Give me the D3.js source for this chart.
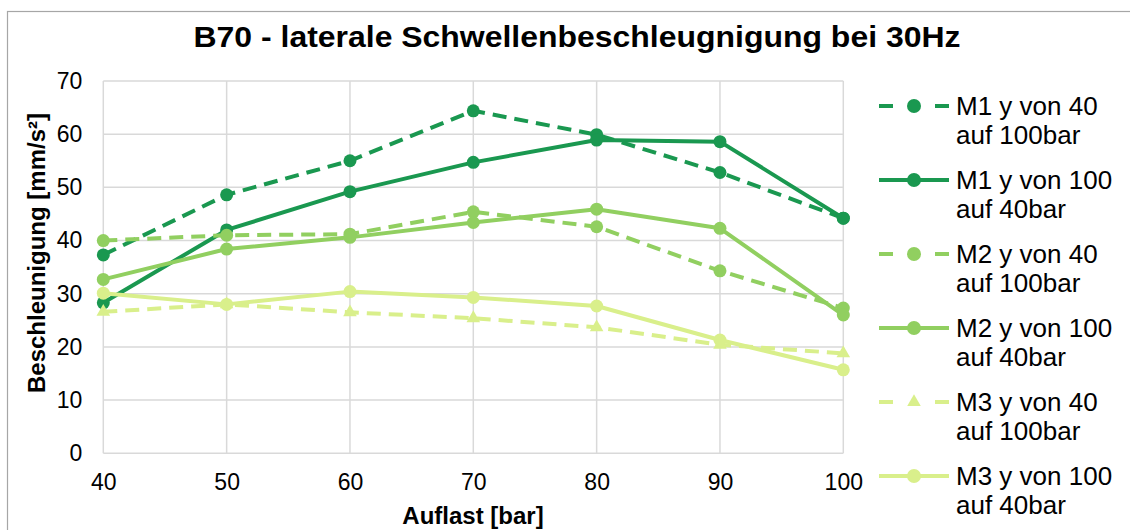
<!DOCTYPE html>
<html>
<head>
<meta charset="utf-8">
<script src="https://cdn.jsdelivr.net/npm/d3@7"></script>
<style>
  html, body { margin: 0; padding: 0; background: #fff; }
  svg { display: block; font-family: "Liberation Sans", Arial, sans-serif; }
</style>
</head>
<body>
<svg id="chart" width="1130" height="530"></svg>
<script>
// Auflast steps (bar)
const loads = [40, 50, 60, 70, 80, 90, 100];
const xTicks = [40, 50, 60, 70, 80, 90, 100];
const yTicks = [0, 10, 20, 30, 40, 50, 60, 70];

// Lateral sleeper acceleration (mm/s²) per measuring point and load direction
const m1Up   = [37.3, 48.6, 55.0, 64.4, 59.9, 52.8, 44.2];
const m1Down = [28.3, 42.0, 49.2, 54.7, 58.9, 58.6, 44.2];
const m2Up   = [40.0, 41.0, 41.2, 45.4, 42.6, 34.3, 27.3];
const m2Down = [32.7, 38.4, 40.6, 43.4, 45.9, 42.3, 26.0];
const m3Up   = [26.6, 28.0, 26.5, 25.4, 23.7, 20.4, 18.8];
const m3Down = [30.1, 28.0, 30.4, 29.3, 27.7, 21.3, 15.7];

const seriesNames = [
  ["M1 y von 40", "auf 100bar"],
  ["M1 y von 100", "auf 40bar"],
  ["M2 y von 40", "auf 100bar"],
  ["M2 y von 100", "auf 40bar"],
  ["M3 y von 40", "auf 100bar"],
  ["M3 y von 100", "auf 40bar"]
];

const C1 = "#1a9850", C2 = "#91cf60", C3 = "#d9ef8b";
const series = [
  { name: seriesNames[0], values: m1Up,   color: C1, dashed: true,  marker: "circle" },
  { name: seriesNames[1], values: m1Down, color: C1, dashed: false, marker: "circle" },
  { name: seriesNames[2], values: m2Up,   color: C2, dashed: true,  marker: "circle" },
  { name: seriesNames[3], values: m2Down, color: C2, dashed: false, marker: "circle" },
  { name: seriesNames[4], values: m3Up,   color: C3, dashed: true,  marker: "triangle" },
  { name: seriesNames[5], values: m3Down, color: C3, dashed: false, marker: "circle" }
];

const svg = d3.select("#chart");
const DASH = "14,8";

// chart frame
svg.append("rect")
  .attr("x", 7.5).attr("y", 11.5)
  .attr("width", 1300).attr("height", 700)
  .attr("fill", "#fff").attr("stroke", "#a6a6a6").attr("stroke-width", 1.2);

// title
svg.append("text")
  .attr("x", 577).attr("y", 47)
  .attr("text-anchor", "middle")
  .attr("font-size", 29).attr("font-weight", "bold")
  .attr("textLength", 767).attr("lengthAdjust", "spacingAndGlyphs")
  .attr("fill", "#000")
  .text("B70 - laterale Schwellenbeschleugnigung bei 30Hz");

const x = d3.scaleLinear().domain([40, 100]).range([103.3, 843.3]);
const y = d3.scaleLinear().domain([0, 70]).range([453.3, 81]);

// grid
const grid = svg.append("g").attr("stroke", "#d9d9d9").attr("stroke-width", 1.5);
grid.selectAll("line.h").data(yTicks).join("line")
  .attr("x1", x(40)).attr("x2", x(100))
  .attr("y1", d => y(d)).attr("y2", d => y(d));
grid.selectAll("line.v").data(xTicks).join("line")
  .attr("x1", d => x(d)).attr("x2", d => x(d))
  .attr("y1", y(0)).attr("y2", y(70));

// axes
const yAxis = svg.append("g")
  .attr("transform", `translate(${x(40)},0)`)
  .call(d3.axisLeft(y).tickValues(yTicks).tickSize(0).tickPadding(21));
const xAxis = svg.append("g")
  .attr("transform", `translate(0,${y(0)})`)
  .call(d3.axisBottom(x).tickValues(xTicks).tickSize(0).tickPadding(20));
[yAxis, xAxis].forEach(a => {
  a.select(".domain").remove();
  a.selectAll("text")
    .attr("font-size", 23)
    .attr("font-family", "'Liberation Sans', Arial, sans-serif")
    .attr("fill", "#000");
});

// axis titles
svg.append("text")
  .attr("transform", "translate(45,253) rotate(-90)")
  .attr("text-anchor", "middle")
  .attr("font-size", 24).attr("font-weight", "bold")
  .text("Beschleunigung [mm/s²]");
svg.append("text")
  .attr("x", 473).attr("y", 524)
  .attr("text-anchor", "middle")
  .attr("font-size", 24).attr("font-weight", "bold")
  .text("Auflast [bar]");

// series
const line = d3.line().x((d, i) => x(loads[i])).y(d => y(d));
const tri = d3.symbol().type(d3.symbolTriangle).size(80);

series.forEach(s => {
  const g = svg.append("g");
  g.append("path")
    .attr("d", line(s.values))
    .attr("fill", "none")
    .attr("stroke", s.color)
    .attr("stroke-width", 4)
    .attr("stroke-linejoin", "round")
    .attr("stroke-dasharray", s.dashed ? DASH : null);
  if (s.marker === "circle") {
    g.selectAll("circle").data(s.values).join("circle")
      .attr("cx", (d, i) => x(loads[i]))
      .attr("cy", d => y(d))
      .attr("r", 6.5)
      .attr("fill", s.color);
  } else {
    g.selectAll("path.m").data(s.values).join("path")
      .attr("class", "m")
      .attr("d", tri)
      .attr("transform", (d, i) => `translate(${x(loads[i])},${y(d)})`)
      .attr("fill", s.color);
  }
});

// legend
const legend = svg.append("g");
series.forEach((s, i) => {
  const cy = 106 + i * 74;
  const g = legend.append("g");
  if (s.dashed) {
    g.append("line").attr("x1", 879).attr("x2", 893).attr("y1", cy).attr("y2", cy)
      .attr("stroke", s.color).attr("stroke-width", 4);
    g.append("line").attr("x1", 935).attr("x2", 949).attr("y1", cy).attr("y2", cy)
      .attr("stroke", s.color).attr("stroke-width", 4);
  } else {
    g.append("line").attr("x1", 879).attr("x2", 949).attr("y1", cy).attr("y2", cy)
      .attr("stroke", s.color).attr("stroke-width", 4);
  }
  if (s.marker === "circle") {
    g.append("circle").attr("cx", 914).attr("cy", cy).attr("r", 7).attr("fill", s.color);
  } else {
    g.append("path").attr("d", tri).attr("transform", `translate(914,${cy})`).attr("fill", s.color);
  }
  const t = g.append("text").attr("font-size", 26).attr("fill", "#000");
  t.append("tspan").attr("x", 956).attr("y", cy + 9).text(s.name[0]);
  t.append("tspan").attr("x", 956).attr("y", cy + 38).text(s.name[1]);
});
</script>
</body>
</html>
